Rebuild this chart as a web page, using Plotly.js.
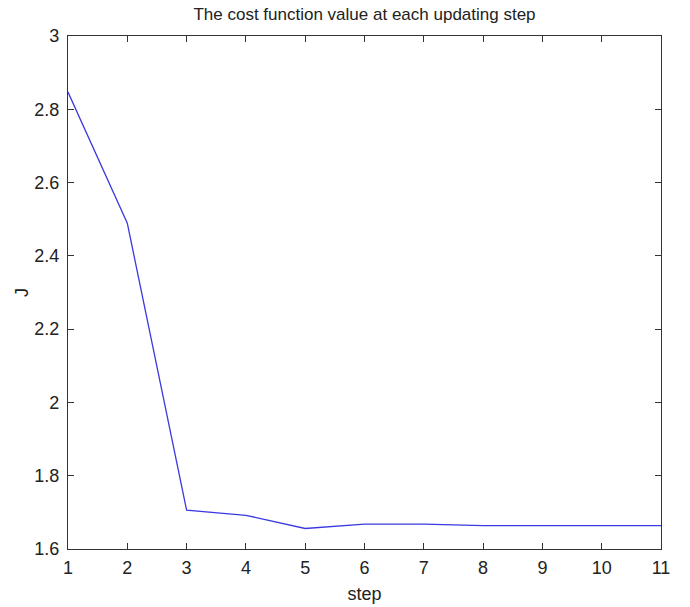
<!DOCTYPE html>
<html>
<head>
<meta charset="utf-8">
<script src="https://cdn.plot.ly/plotly-3.0.1.min.js"></script>
<style>
  html, body { margin: 0; padding: 0; background: #fff; }
  #chart { width: 690px; height: 607px; }
</style>
</head>
<body>
<div id="chart"></div>
<script>
const steps = [1, 2, 3, 4, 5, 6, 7, 8, 9, 10, 11];
const costJ = [2.847, 2.489, 1.706, 1.692, 1.656, 1.668, 1.668, 1.664, 1.664, 1.664, 1.664];
const xTicks = [1, 2, 3, 4, 5, 6, 7, 8, 9, 10, 11];
const yTicks = [1.6, 1.8, 2, 2.2, 2.4, 2.6, 2.8, 3];
const titleText = 'The cost function value at each updating step';
const xLabel = 'step';
const yLabel = 'J';

const fontFam = '"Liberation Sans", Arial, sans-serif';

const trace = {
  x: steps,
  y: costJ,
  type: 'scatter',
  mode: 'lines',
  line: { color: '#3a3ae0', width: 1.3 },
  hoverinfo: 'skip'
};

const axisCommon = {
  showgrid: false,
  zeroline: false,
  showline: true,
  linecolor: '#333',
  linewidth: 1.2,
  mirror: 'ticks',
  ticks: 'inside',
  ticklen: 6,
  tickwidth: 1,
  tickcolor: '#333',
  tickfont: { family: fontFam, size: 18, color: '#222' }
};

const layout = {
  width: 690,
  height: 607,
  paper_bgcolor: '#fff',
  plot_bgcolor: '#fff',
  margin: { l: 68, r: 29, t: 36, b: 58, pad: 0 },
  showlegend: false,
  title: {
    text: titleText,
    font: { family: fontFam, size: 17, color: '#222' },
    x: 0.5, xref: 'paper',
    y: 1 - 14 / 607, yref: 'container', yanchor: 'middle'
  },
  xaxis: Object.assign({}, axisCommon, {
    range: [1, 11],
    tickmode: 'array',
    tickvals: xTicks,
    ticktext: xTicks.map(String),
    ticklabelstandoff: 2,
    title: { text: xLabel, font: { family: fontFam, size: 18, color: '#222' }, standoff: 10 },
    automargin: false
  }),
  yaxis: Object.assign({}, axisCommon, {
    range: [1.6, 3],
    tickmode: 'array',
    tickvals: yTicks,
    ticktext: yTicks.map(String),
    ticklabelstandoff: 4,
    title: { text: yLabel, font: { family: fontFam, size: 18, color: '#222' }, standoff: 0 },
    automargin: false
  })
};

Plotly.newPlot('chart', [trace], layout, { staticPlot: true, displayModeBar: false });
</script>
</body>
</html>
